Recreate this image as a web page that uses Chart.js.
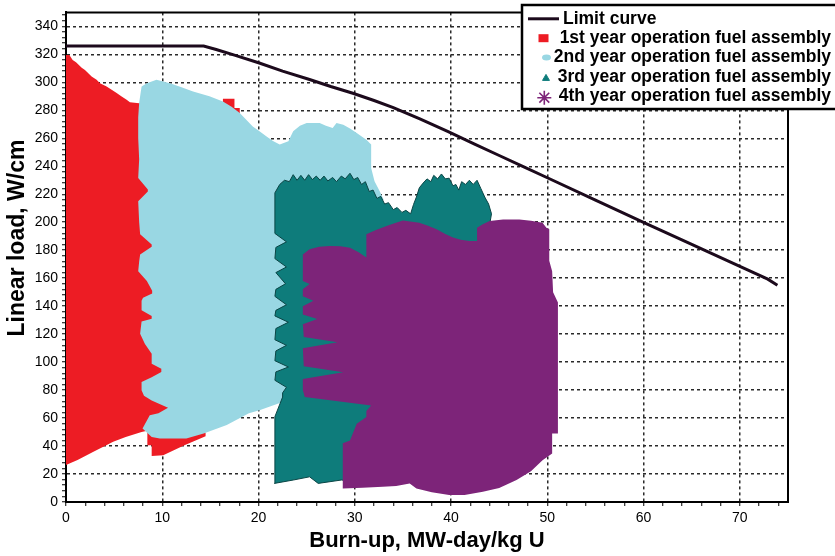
<!DOCTYPE html>
<html>
<head>
<meta charset="utf-8">
<script src="https://cdn.jsdelivr.net/npm/chart.js@4.4.1/dist/chart.umd.min.js"></script>
<style>
html,body{margin:0;padding:0;background:#fff;}
#wrap{position:relative;width:835px;height:556px;}
</style>
</head>
<body>
<div id="wrap"><canvas id="c"></canvas></div>
<script>
// ---------------- data ----------------
const seriesNames = [
  'Limit curve',
  '1st year operation fuel assembly',
  '2nd year operation fuel assembly',
  '3rd year operation fuel assembly',
  '4th year operation fuel assembly'
];
const xTickLabels = [0, 10, 20, 30, 40, 50, 60, 70];
const yTickLabels = [0, 20, 40, 60, 80, 100, 120, 140, 160, 180, 200, 220, 240, 260, 280, 300, 320, 340];

// Limit curve: [burn-up, linear load]
const limitCurve = [[0,326],[14.3,326],[15.6,323.5],[17.5,319.5],[20,314],[22.5,308],[25.3,302],[27.5,297],
  [29.8,292.2],[32,287],[34,282],[36.7,274],[39.7,264.7],[42.5,255.6],[45,247.7],[47.5,239.8],[50,231.8],
  [55,215.8],[60.1,199.6],[65,184.1],[70,168.4],[72.9,159.3],[73.9,155]];

// Outlines of the operating regions (burn-up, linear load)
const year1Area = [[0,26.4],[0,319.6],[0.35,319.6],[0.69,316],[1.04,314.3],[1.63,310.5],[1.97,308.9],[2.66,304.1],
  [3.18,301.8],[3.53,299.4],[4.22,297],[4.74,294.7],[5.26,292.3],[5.78,289.9],[6.3,287.6],[6.64,285.8],[7.6,285],
  [16.3,285.3],[16.3,288.2],[17.5,288.2],[17.5,281.6],[18.05,281.6],[18.05,274],[12,200],[12,60],[14.5,49.5],
  [14.5,47],[12.3,40.5],[10.1,33.5],[8.9,32.8],[8.9,40.6],[8.45,40.6],[8.45,51],[7.85,50],[6.2,46.5],[4.9,43],
  [2.8,35.8],[1.2,30],[0,26.4]];

const year2Area = [[7.6,285.5],[7.85,297],[8.4,299.4],[9.4,301.8],[10.8,299.4],[12.0,296.5],[13.2,293.4],[14.9,290],
  [16.3,286.3],[17.2,282.5],[18.05,278],[19.4,268.5],[20.1,265],[20.8,261.4],[21.5,258],[22.2,255.5],[23.1,257.8],
  [23.6,265],[24.3,269],[25.0,271],[26.35,271],[27.0,269],[27.7,267.3],[28.1,271],[28.8,269.7],[29.5,267],
  [30.2,263.8],[31.2,259],[31.7,255.5],[31.7,238.8],[32.05,229.3],[32.6,222],[33.0,216],[31,205],[25,150],[25,80],
  [23.5,73],[22.5,71.4],[20.1,65.5],[19,63.5],[16.7,55],[14.3,49],[12.5,45.4],[9.75,45.4],[8.9,46.5],[7.95,52.5],
  [8.7,62],[9.6,63.5],[10.6,67.4],[9.6,70.5],[8.9,72.6],[8.1,76],[7.85,79.8],[7.85,85.7],[8.9,89.2],[9.9,93],[9.9,95.2],
  [8.9,98.8],[8.9,106],[8.2,113],[7.7,120.2],[7.85,129],[8.9,131],[8.9,133],[7.85,137],[7.85,143.9],[8.0,146],
  [8.95,149],[8.95,151],[8.4,158],[7.5,165],[7.6,172],[7.7,177],[8.9,182.5],[8.9,184],[7.7,191.4],[7.6,200],[7.5,215],
  [8.5,222],[8.5,223.4],[7.5,231.7],[7.6,245],[7.5,260],[7.5,275],[7.6,285.5]];

const year3Area = [[21.65,13.3],[21.7,61],[22.5,75],[22.5,78],[22.9,82],[21.7,87],[21.8,93],[23.1,96.5],[21.7,101],
  [21.8,108],[22.9,112],[21.7,116],[21.8,124],[23.1,128.5],[21.7,133],[21.8,137],[22.9,141],[21.7,147],[21.8,152],
  [22.8,156],[21.8,164],[22.9,168],[21.7,174],[21.8,182],[22.9,186],[21.7,192],[21.7,221],[22.2,227],[22.7,230],
  [23.2,229],[23.6,234],[24.0,230],[24.4,233.5],[24.8,230],[25.2,234],[25.6,230.5],[26.0,233],[26.4,230],[26.8,233],
  [27.2,229.5],[27.7,232],[28.1,229],[28.6,233],[29.0,231],[29.5,235],[29.9,230.5],[30.3,232],[30.7,227],[31.1,229],
  [31.5,222],[31.9,223],[32.3,217],[32.7,218.5],[33.1,213],[33.5,214],[34.0,209],[34.4,210.5],[34.9,207],[35.3,208.5],
  [35.8,206],[36.1,212.7],[36.4,218],[36.7,224.6],[37.1,228],[37.5,231],[37.9,229],[38.2,233.5],[38.6,231],[39.0,234.5],
  [39.4,231],[39.8,231.5],[40.2,226],[40.5,227],[40.8,223],[41.1,229],[41.5,227],[41.9,230],[42.3,227],[42.7,230],
  [43.1,224],[43.5,218],[43.9,213],[44.2,206],[44.0,198],[43.0,185],[34,100],[31,14],[28.6,15.7],[26.2,13.3],
  [25.3,18],[23.6,15.7],[21.65,13.3]];

const year4Area = [[24.6,177],[25.3,180.7],[26.3,182.5],[27.4,183],[28.5,182.8],[29.5,181.8],[30.4,178.5],[31.2,174.7],
  [31.2,191.4],[32.2,194.5],[33.3,197.3],[34.2,199.5],[35.0,201.3],[36.7,199.6],[37.6,197.5],[38.5,195],[39.4,191.5],
  [40.2,189],[41.0,187.5],[41.9,186.6],[42.7,186.6],[42.7,196],[43.3,198.5],[44.0,200.9],[45.4,202],[47.1,202],
  [48.3,201],[49.5,199.6],[49.9,196],[50.2,195],[50.2,172.4],[50.5,165],[50.6,150],[51.1,142.7],[51.1,58.4],
  [51.1,49],[50.5,49],[50.5,34.7],[49.5,29.9],[48.3,22],[46.8,15.7],[45.0,10],[43.3,7.3],[41.4,5],[39.8,5],[38.0,7],
  [36.4,9.7],[35.7,13.3],[34.3,11.5],[32.9,10.9],[30.8,10.2],[28.75,9.7],[28.75,42],[29.5,44],[30.2,56],[31.2,60.8],
  [31.2,65],[31.7,69],[24.8,75],[24.6,80],[24.6,88],[28.8,92.8],[24.7,97],[24.6,110],[28.2,114.2],[24.7,118],
  [24.6,127],[26.1,130.8],[24.6,134],[24.6,140],[25.7,143.9],[24.6,147],[24.6,152],[25.3,155.8],[24.6,158],[24.6,177]];

// ---------------- helpers / styling ----------------
const toXY = a => a.map(([x, y]) => ({x, y}));

function fontAvailable(name) {
  const c = document.createElement('canvas').getContext('2d');
  const s = 'abcdefghijklmnopqrstuvwxyz0123456789';
  c.font = 'bold 20px monospace';
  const a = c.measureText(s).width;
  c.font = 'bold 20px "' + name + '", monospace';
  return c.measureText(s).width !== a;
}
const hasNarrow = fontAvailable('Liberation Sans Narrow');
const legendFont = hasNarrow ? 'bold 20px "Liberation Sans Narrow"' : 'bold 17.5px "Liberation Sans", Arial, sans-serif';
const FAMILY = '"Liberation Sans", Arial, sans-serif';
const gridColor = '#2a2a2a';

const framePlugin = {
  id: 'frame',
  afterDatasetsDraw(chart) {
    const {ctx, chartArea: a} = chart;
    ctx.save();
    ctx.strokeStyle = '#000';
    ctx.lineWidth = 2;
    ctx.beginPath();
    ctx.moveTo(a.left - 1, a.top);
    ctx.lineTo(a.right, a.top);
    ctx.lineTo(a.right, a.bottom + 1);
    ctx.stroke();
    ctx.restore();
  }
};

const boxLegend = {
  id: 'boxLegend',
  afterDraw(chart) {
    const ctx = chart.ctx;
    const ds = chart.data.datasets;
    const rowY = [18.8, 38.2, 57.5, 76.9, 96.2];
    ctx.save();
    ctx.fillStyle = '#fff';
    ctx.fillRect(522, 5, 330, 104);
    ctx.strokeStyle = '#000';
    ctx.lineWidth = 2.5;
    ctx.strokeRect(522, 5, 330, 104);
    // limit curve line
    ctx.strokeStyle = ds[0].borderColor;
    ctx.lineWidth = 3;
    ctx.beginPath();
    ctx.moveTo(528, rowY[0]);
    ctx.lineTo(559, rowY[0]);
    ctx.stroke();
    // markers
    ctx.fillStyle = ds[1].backgroundColor;
    ctx.fillRect(538.5, rowY[1] - 4, 10, 8);
    ctx.fillStyle = ds[2].backgroundColor;
    ctx.beginPath();
    ctx.ellipse(546.5, rowY[2], 4.5, 3, 0, 0, Math.PI * 2);
    ctx.fill();
    ctx.fillStyle = ds[3].backgroundColor;
    ctx.strokeStyle = ds[3].backgroundColor;
    ctx.lineWidth = 1;
    Chart.helpers.drawPoint(ctx, {pointStyle: 'triangle', radius: 4, borderWidth: 1}, 546, rowY[3] + 1.5);
    ctx.strokeStyle = ds[4].backgroundColor;
    ctx.lineWidth = 1.6;
    Chart.helpers.drawPoint(ctx, {pointStyle: 'star', radius: 7, borderWidth: 1.6}, 544.3, rowY[4] + 1.5);
    // texts
    ctx.fillStyle = '#000';
    ctx.font = legendFont;
    ctx.textBaseline = 'middle';
    ctx.textAlign = 'left';
    ctx.fillText(ds[0].label, 563, rowY[0]);
    ctx.textAlign = 'right';
    for (let i = 1; i < ds.length; i++) ctx.fillText(ds[i].label, 831, rowY[i]);
    ctx.restore();
  }
};

const areaColors = ['#ED1C24', '#99D7E3', '#0E7C7B', '#7D2479'];
const areas = [year1Area, year2Area, year3Area, year4Area];

const datasets = [{
  label: seriesNames[0],
  data: toXY(limitCurve),
  borderColor: '#1c0a1c',
  borderWidth: 3,
  fill: false,
  pointRadius: 0,
  order: 0
}];
areas.forEach((a, i) => {
  datasets.push({
    label: seriesNames[i + 1],
    data: toXY(a),
    backgroundColor: areaColors[i],
    borderColor: i === 2 ? '#0a4545' : areaColors[i],
    borderWidth: i === 2 ? 1 : 0,
    fill: 'shape',
    pointRadius: 0,
    order: 4 - i
  });
});

new Chart(document.getElementById('c'), {
  type: 'line',
  data: {datasets},
  plugins: [framePlugin, boxLegend],
  options: {
    responsive: true,
    maintainAspectRatio: false,
    devicePixelRatio: 1,
    animation: false,
    events: [],
    layout: {padding: {left: 0, top: 10, right: 47, bottom: 0}},
    plugins: {legend: {display: false}, tooltip: {enabled: false}},
    scales: {
      x: {
        type: 'linear', min: 0, max: 75,
        ticks: {
          stepSize: 2, includeBounds: false, autoSkip: false, maxRotation: 0,
          callback: v => xTickLabels.includes(v) ? String(v) : '',
          font: {family: FAMILY, size: 14}, color: '#000', padding: 4
        },
        grid: {
          color: c => (c.tick && xTickLabels.includes(c.tick.value) && c.tick.value > 0) ? gridColor : 'rgba(0,0,0,0)',
          tickColor: '#000', tickLength: 4, lineWidth: 1.5, tickWidth: 1
        },
        border: {display: true, color: '#000', width: 2, dash: [3, 3]},
        title: {
          display: true, text: 'Burn-up, MW-day/kg U', color: '#000',
          font: {family: FAMILY, size: 22, weight: 'bold'}, padding: {top: 0, bottom: 2}
        },
        afterFit(s) { s.height = 54; }
      },
      y: {
        type: 'linear', min: 0, max: 350,
        ticks: {
          stepSize: 4, includeBounds: false, autoSkip: false,
          callback: v => yTickLabels.includes(v) ? String(v) : '',
          font: {family: FAMILY, size: 14}, color: '#000', padding: 4
        },
        grid: {
          color: c => (c.tick && yTickLabels.includes(c.tick.value) && c.tick.value > 0) ? gridColor : 'rgba(0,0,0,0)',
          tickColor: '#000', tickLength: 4, lineWidth: 1.5, tickWidth: 1
        },
        border: {display: true, color: '#000', width: 2, dash: [3, 3]},
        title: {
          display: true, text: '      Linear load, W/cm', color: '#000',
          font: {family: FAMILY, size: 23, weight: 'bold'}, padding: {top: 4, bottom: 0}
        },
        afterFit(s) { s.width = 66; }
      }
    }
  }
});
</script>
</body>
</html>
